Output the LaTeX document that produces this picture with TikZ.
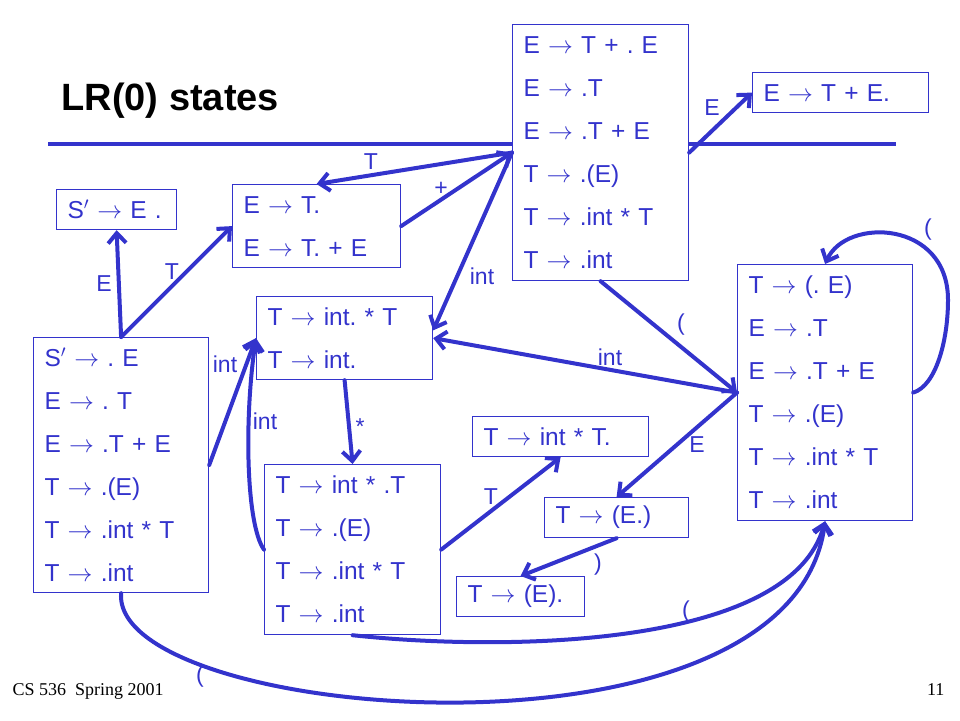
\documentclass[tikz,border=0pt]{standalone}
\usepackage{fontspec}
\setmainfont{Liberation Sans}
\newfontfamily\footfont{Liberation Serif}
\usetikzlibrary{arrows.meta}
\definecolor{slideblue}{RGB}{51,51,204}
\newcommand{\yields}{$\rightarrow$}
\frenchspacing

\begin{document}
\begin{tikzpicture}[x=1pt, y=-1pt,
        state/.style={draw=slideblue, line width=1.2pt, fill=white, text=slideblue, anchor=north west,
            inner xsep=11pt, inner ysep=0pt, align=left, font=\fontsize{24.5}{43}\selectfont},
        trans/.style={draw=slideblue, line width=4pt, line cap=round, -{Straight Barb[length=10pt,width=18pt]}},
        lbl/.style={text=slideblue, inner sep=0pt, font=\fontsize{23}{26}\selectfont}]
        \useasboundingbox (0,0) rectangle (960,720);

        % Title and rule
        \node[anchor=base west, font=\bfseries\fontsize{38}{40}\selectfont] (title) at (58,110) {LR(0) states};
        \draw[slideblue, line width=4.5pt] (48,144) -- (896,144);

        % States
        \node[state, minimum width=175pt, minimum height=255pt, text width=153pt] (A) at (33,337)
            {S$'$ \yields{} . E\\ E \yields{} . T\\ E \yields{} .T + E\\ T \yields{} .(E)\\ T \yields{} .int * T\\ T \yields{} .int};
        \node[state, minimum width=120pt, minimum height=40pt, text width=98pt] (B) at (56,189)
            {S$'$ \yields{} E .};
        \node[state, minimum width=168pt, minimum height=83pt, text width=146pt] (C) at (232,184)
            {E \yields{} T.\\ E \yields{} T. + E};
        \node[state, minimum width=176pt, minimum height=256pt, text width=154pt] (D) at (512,24)
            {E \yields{} T + . E\\ E \yields{} .T\\ E \yields{} .T + E\\ T \yields{} .(E)\\ T \yields{} .int * T\\ T \yields{} .int};
        \node[state, minimum width=176pt, minimum height=40pt, text width=154pt] (E) at (752,72)
            {E \yields{} T + E.};
        \node[state, minimum width=176pt, minimum height=83pt, text width=154pt] (F) at (256,296)
            {T \yields{} int. * T\\ T \yields{} int.};
        \node[state, minimum width=176pt, minimum height=170pt, text width=154pt] (G) at (264,464)
            {T \yields{} int * .T\\ T \yields{} .(E)\\ T \yields{} .int * T\\ T \yields{} .int};
        \node[state, minimum width=176pt, minimum height=40pt, text width=154pt] (H) at (472,416)
            {T \yields{} int * T.};
        \node[state, minimum width=144pt, minimum height=40pt, text width=122pt] (I) at (544,497)
            {T \yields{} (E.)};
        \node[state, minimum width=128pt, minimum height=40pt, text width=106pt] (J) at (456,576)
            {T \yields{} (E).};
        \node[state, minimum width=175pt, minimum height=256pt, text width=153pt] (K) at (737,264)
            {T \yields{} (. E)\\ E \yields{} .T\\ E \yields{} .T + E\\ T \yields{} .(E)\\ T \yields{} .int * T\\ T \yields{} .int};

        % Transitions
        \draw[trans] (A.north) -- (B.south);
        \draw[trans] (A.north) -- (C.west);
        \draw[trans] (A.east) -- (F.west);
        \draw[trans] (G.west) .. controls +(-18,-25) and +(-12,80) .. (F.west);
        \draw[trans] (F.south) -- (G.north);
        \draw[trans] (D.west) -- (C.north);
        \draw[trans] (C.east) -- (D.west);
        \draw[trans] (D.west) -- (F.5);
        \draw[trans] (D.east) -- (E.west);
        \draw[trans] (D.south) -- (K.west);
        \draw[trans] (K.west) -- (F.east);
        \draw[trans] (K.west) -- (I.north);
        \draw[trans] (I.south) -- (J.north);
        \draw[trans] (G.east) -- (H.south);
        \coordinate (loopK) at (948,300);
        \draw[trans] (K.east) .. controls +(23,-7) and +(0,40) .. (loopK)
            .. controls +(0,-80) and +(21,-47) .. (K.north);
        \draw[trans] (G.south) .. controls +(148,16) and +(-35,128) .. (K.south);
        \draw[trans] (A.south) .. controls +(-10,128) and +(-35,258) .. (K.south);

        % Transition labels
        \node[lbl] (lAB) at (104,284) {E};
        \node[lbl] (lAC) at (172,272) {T};
        \node[lbl] (lAF) at (225,364) {int};
        \node[lbl] (lGF) at (265,421) {int};
        \node[lbl] (lFG) at (360,427) {*};
        \node[lbl] (lDC) at (371,162) {T};
        \node[lbl] (lCD) at (441,189) {+};
        \node[lbl] (lDF) at (482,276) {int};
        \node[lbl] (lDE) at (712,108) {E};
        \node[lbl] (lDK) at (681,325) {(};
        \node[lbl] (lKF) at (610,357) {int};
        \node[lbl] (lKK) at (928,230) {(};
        \node[lbl] (lKI) at (697,445) {E};
        \node[lbl] (lGH) at (491,497) {T};
        \node[lbl] (lIJ) at (598,565) {)};
        \node[lbl] (lGK) at (686,612) {(};
        \node[lbl] (lAK) at (200,677) {(};

        % Footer
        \node[anchor=base west, font=\footfont\fontsize{18}{20}\selectfont] (foot) at (9,695) {CS 536\ \ Spring 2001};
        \node[anchor=base east, font=\footfont\fontsize{18}{20}\selectfont] (page) at (948,695) {11};
    \end{tikzpicture}
\end{document}
